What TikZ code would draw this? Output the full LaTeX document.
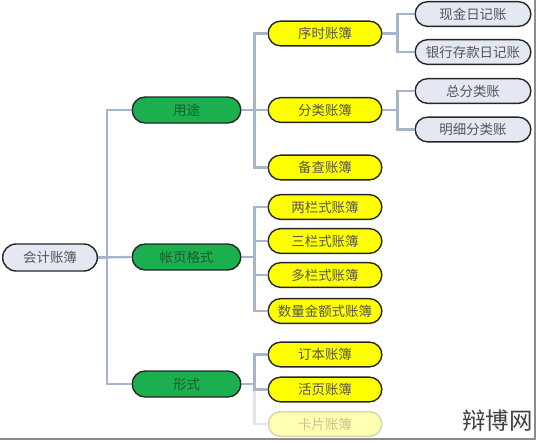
\documentclass[tikz,border=0pt]{standalone}
\usepackage{fontspec}
\newfontfamily\cjk{Noto Sans CJK SC}
\usepackage{xcolor}
\usetikzlibrary{shapes.misc,positioning}

\definecolor{rootfill}{HTML}{E4E8F2}
\definecolor{leaffill}{HTML}{E3E8F3}
\definecolor{greenfill}{HTML}{1CAF4F}
\definecolor{greentext}{HTML}{1B5E2C}
\definecolor{yellowfill}{HTML}{FFFF00}
\definecolor{linkcolor}{HTML}{A7B5CC}
\definecolor{textgray}{HTML}{555555}

\begin{document}
\begin{tikzpicture}[
        x=0.03cm, y=-0.03cm,
        every node/.style={font=\cjk\fontsize{11.5}{13}\selectfont},
        pill/.style={rounded rectangle, draw=black!85, line width=1.2pt, inner sep=1pt},
        root/.style={pill, fill=rootfill, text=textgray, minimum width=2.91cm, minimum height=0.81cm},
        cat/.style={pill, fill=greenfill, text=greentext, minimum width=3.33cm, minimum height=0.78cm},
        book/.style={pill, fill=yellowfill, text=textgray, minimum width=3.48cm, minimum height=0.74cm},
        leaf/.style={pill, fill=leaffill, text=textgray, minimum width=3.54cm, minimum height=0.74cm},
        link/.style={draw=linkcolor, line width=2pt}
    ]
        \useasboundingbox (0,0) rectangle (538,442);

        % root
        \node[root] (root) at (50,257.5) {会计账簿};

        % categories
        \node[cat] (yongtu) at (186.5,110) {用途};
        \node[cat] (geshi) at (186.5,257) {帐页格式};
        \node[cat] (xingshi) at (186.5,384) {形式};

        % books by use
        \node[book] (xushi) at (325,33.5) {序时账簿};
        \node[book] (fenlei) at (325,110) {分类账簿};
        \node[book] (beicha) at (325,167.5) {备查账簿};

        % books by page format
        \node[book] (liangl) at (325,207) {两栏式账簿};
        \node[book] (sanl) at (325,241) {三栏式账簿};
        \node[book] (duol) at (325,275) {多栏式账簿};
        \node[book] (shuliang) at (325,311) {数量金额式账簿};

        % books by form
        \node[book] (dingben) at (325,354.5) {订本账簿};
        \node[book] (huoye) at (325,389.5) {活页账簿};
        \node[book, fill opacity=0.3, draw opacity=0.2, text opacity=0.35] (kapian) at (325,424) {卡片账簿};

        % journals and ledgers
        \node[leaf] (xianjin) at (473,14) {现金日记账};
        \node[leaf] (yinhang) at (473,52) {银行存款日记账};
        \node[leaf] (zong) at (473,91) {总分类账};
        \node[leaf] (mingxi) at (473,129.5) {明细分类账};

        % root links
        \draw[link] (root.east) -- ++(9,0) |- (yongtu.west);
        \draw[link] (root.east) -- (geshi.west);
        \draw[link] (root.east) -- ++(9,0) |- (xingshi.west);

        % category links
        \draw[link] (yongtu.east) -- ++(13,0) |- (xushi.west);
        \draw[link] (yongtu.east) -- (fenlei.west);
        \draw[link] (yongtu.east) -- ++(13,0) |- (beicha.west);
        \draw[link] (geshi.east) -- ++(13,0) |- (liangl.west);
        \draw[link] (geshi.east) -- ++(13,0) |- (sanl.west);
        \draw[link] (geshi.east) -- ++(13,0) |- (duol.west);
        \draw[link] (geshi.east) -- ++(13,0) |- (shuliang.west);
        \draw[link] (xingshi.east) -- ++(13,0) |- (dingben.west);
        \draw[link] (xingshi.east) -- ++(13,0) |- (huoye.west);
        \draw[link, draw opacity=0.35] (xingshi.east) -- ++(13,0) |- (kapian.west);

        % leaf links
        \draw[link] (xushi.east) -- ++(15,0) |- (xianjin.west);
        \draw[link] (xushi.east) -- ++(15,0) |- (yinhang.west);
        \draw[link] (fenlei.east) -- ++(15,0) |- (zong.west);
        \draw[link] (fenlei.east) -- ++(15,0) |- (mingxi.west);

        % frame shadow and watermark
        \draw[black!45, line width=1.5pt] (535,0) -- (535,439) -- (0,439);
        \node[font=\cjk\fontsize{20}{22}\selectfont, text=black!75, anchor=east, inner sep=0pt] (mark) at (533,421) {辩博网};
    \end{tikzpicture}
\end{document}
